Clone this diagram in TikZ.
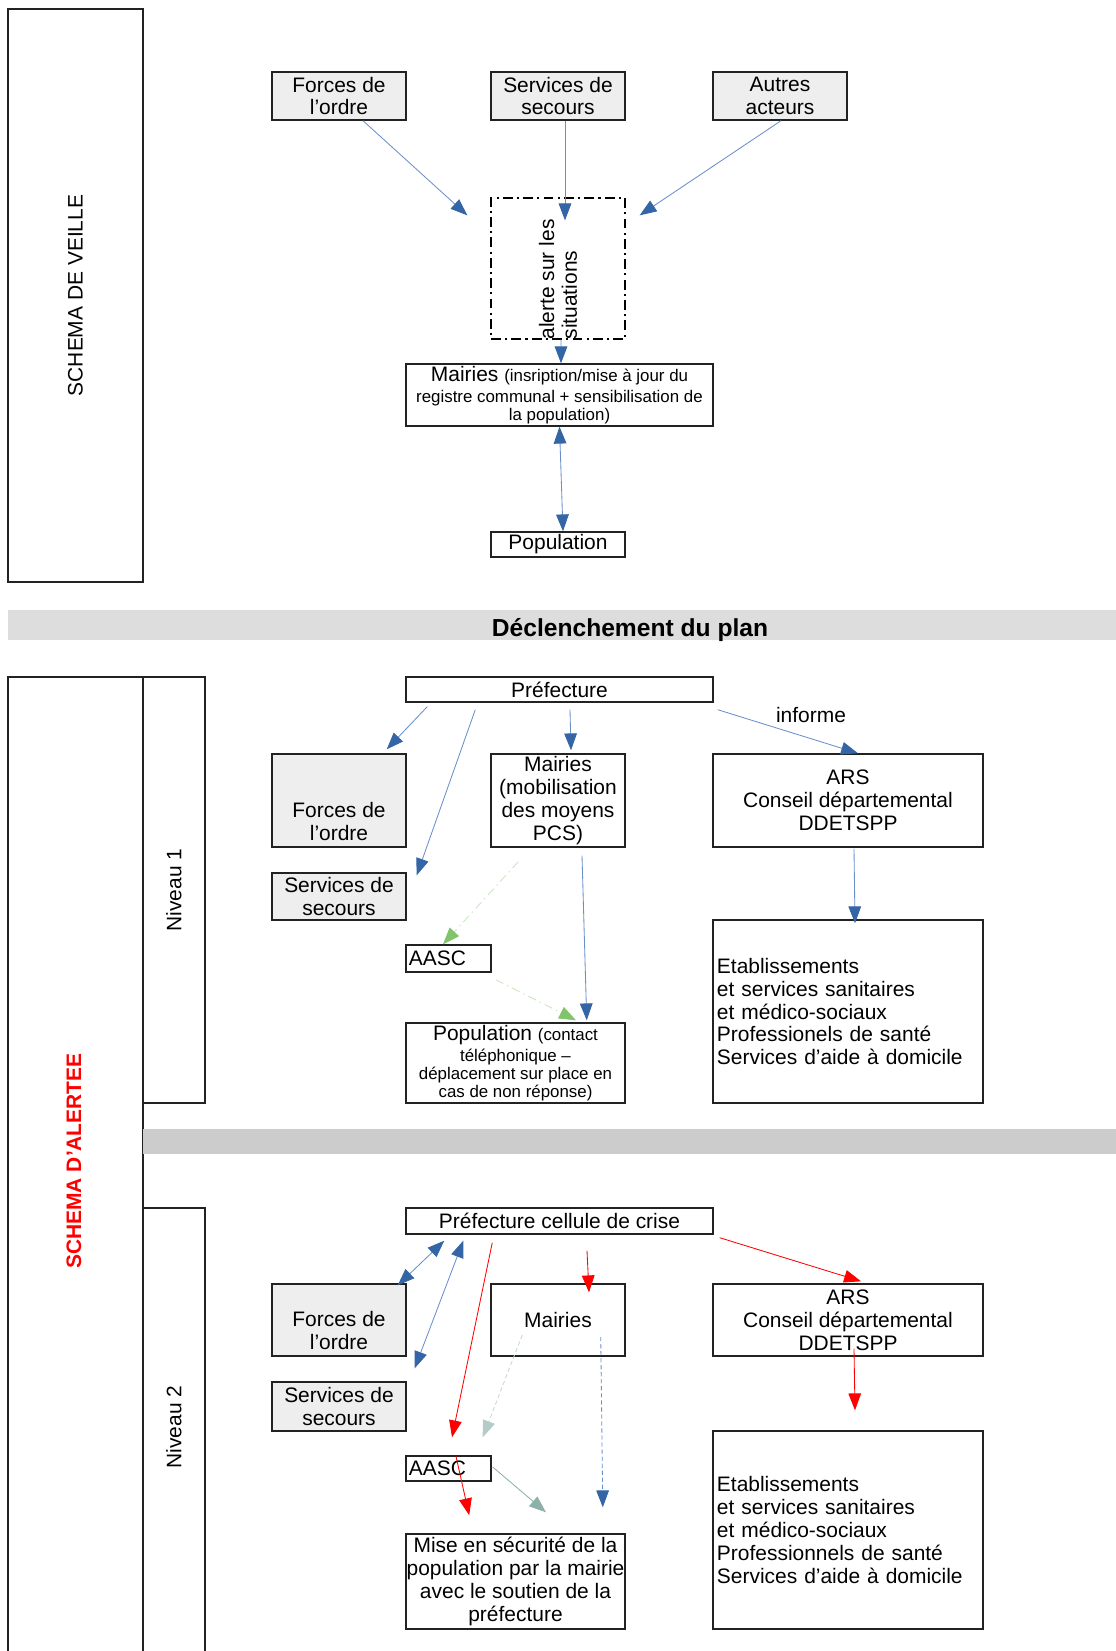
\documentclass[tikz,border=0pt]{standalone}
\usepackage{fontspec}
\setmainfont{Liberation Sans}
\usetikzlibrary{arrows.meta,calc}

\definecolor{cadre}{HTML}{222222}
\definecolor{grisclair}{HTML}{EEEEEE}
\definecolor{bandeau}{HTML}{DDDDDD}
\definecolor{bandeaufonce}{HTML}{CCCCCC}
\definecolor{bleutrait}{HTML}{6A8FCB}
\definecolor{bleu}{HTML}{3465A4}
\definecolor{rouge}{HTML}{FF0000}
\definecolor{verttrait}{HTML}{C9E4BF}
\definecolor{vert}{HTML}{81C46C}
\definecolor{gristrait}{HTML}{C6D8D4}
\definecolor{grisvert}{HTML}{B4CCC7}
\definecolor{sarcelle}{HTML}{8DB0A8}

\newcommand{\petit}{\fontsize{12}{13.5}\selectfont}

\tikzset{
  every node/.style={font=\fontsize{14.9}{16.3}\selectfont},
  trait/.style={draw=cadre,line width=1pt},
  boite/.style={
    draw=cadre,
    line width=1pt,
    fill=white,
    inner sep=1.5pt,
    align=center,
    minimum width=3.35cm
  },
  boitegrise/.style={boite,fill=grisclair},
  large/.style={minimum width=6.75cm},
  pointe/.style={-{Triangle[length=12pt,width=9pt,color=#1]}},
  fleche/.style={draw=bleutrait,line width=0.6pt,pointe=bleu},
  doublefleche/.style={draw=bleutrait,line width=0.6pt,
    {Triangle[length=12pt,width=9pt,color=bleu]}-{Triangle[length=12pt,width=9pt,color=bleu]}},
  flecherouge/.style={draw=rouge,line width=0.6pt,pointe=rouge},
  flecheverte/.style={draw=verttrait,line width=0.6pt,
    dash pattern=on 6pt off 3pt on 1pt off 3pt,pointe=vert},
  flechegrise/.style={draw=gristrait,line width=0.6pt,
    dash pattern=on 3pt off 2pt,pointe=grisvert},
  flechesarcelle/.style={draw=sarcelle,line width=0.6pt,pointe=sarcelle},
  flechepointillee/.style={draw=bleutrait,line width=0.6pt,
    dash pattern=on 3pt off 2pt,pointe=bleu}
}

\begin{document}
\begin{tikzpicture}[x=0.025cm,y=-0.025cm]
  \useasboundingbox (0,0) rectangle (1116,1651);

  % Schéma de veille
  \node[boite,rotate=90,minimum width=14.325cm,minimum height=3.375cm]
    (veille) at (75.5,295.5) {SCHEMA DE VEILLE};

  \node[boitegrise,minimum height=1.2cm] (forces0) at (339,96) {Forces de\\l’ordre};
  \node[boitegrise,minimum height=1.2cm] (secours0) at (558,96) {Services de\\secours};
  \node[boitegrise,minimum height=1.2cm] (autres0) at (780,96) {Autres\\acteurs};

  \node[boite,draw=black,line width=0.9pt,dash pattern=on 7pt off 3pt on 1.5pt off 3pt,
    minimum height=3.525cm] (alerte0) at (558,268.5) {};
  \node[rotate=90,anchor=west,align=left,inner sep=0pt]
    (alerte0-texte) at (alerte0.south) {alerte sur les\\situations};

  \node[boite,minimum width=7.675cm,minimum height=1.55cm] (mairies0) at (559.5,395)
    {Mairies \petit(insription/mise à jour du\\[-1.5pt]\petit registre communal + sensibilisation de\\[-3.5pt]\petit la population)};
  \node[boite,minimum height=0.625cm] (population0) at (558,544.5) {Population};

  \draw[fleche] ($(forces0.south)+(24,0)$) -- ($(alerte0.north west)+(-23,18)$);
  \draw[fleche] ($(secours0.south)+(7,0)$) -- ($(alerte0.north)+(7,23)$);
  \draw[fleche] ($(autres0.south)+(1,0)$) -- ($(alerte0.north east)+(14,18)$);
  \draw[fleche] ($(alerte0.south)+(3,0)$) -- ($(mairies0.north)+(1.5,0)$);
  \draw[doublefleche] (mairies0.south) -- ($(population0.north)+(5,0)$);

  % Bandeau de déclenchement
  \fill[bandeau] (8,610) rectangle (1116,640);
  \node[font=\fontsize{17.5}{20}\selectfont\bfseries] (declenchement) at (630,630)
    {Déclenchement du plan};

  % Schéma d'alerte : cadre ouvert vers le bas
  \draw[trait] (8,1651) |- (143,677) -- (143,1651);
  \node[rotate=90,text=rouge,font=\fontsize{14.9}{16.3}\selectfont\bfseries]
    (alerte) at (74,1161) {SCHEMA D’ALERTEE};

  % Niveau 1
  \node[boite,rotate=90,minimum width=10.65cm,minimum height=1.55cm]
    (niveau1) at (174,890) {Niveau 1};

  \node[boite,minimum width=7.675cm,minimum height=0.625cm] (pref1) at (559.5,689.5) {Préfecture};
  \node (informe) at (811,715) {informe};
  \node[boitegrise,minimum height=2.325cm] (forces1) at (339,800.5) {};
  \node[anchor=south,align=center,inner sep=5pt] (forces1-texte) at (forces1.south)
    {Forces de\\l’ordre};
  \node[boite,minimum height=2.325cm] (mairies1) at (558,800.5)
    {Mairies\\(mobilisation\\des moyens\\PCS)};
  \node[boite,large,minimum height=2.325cm] (ars1) at (848,800.5)
    {ARS\\Conseil départemental\\DDETSPP};
  \node[boitegrise,minimum height=1.175cm] (secours1) at (339,896.5) {Services de\\secours};
  \node[boite,minimum width=2.125cm,text width=1.98cm,align=left,minimum height=0.675cm]
    (aasc1) at (448.5,958.5) {AASC};
  \node[boite,minimum width=5.475cm,minimum height=2cm] (population1) at (515.5,1063)
    {Population \petit(contact\\[-1.5pt]\petit téléphonique –\\[-3.5pt]\petit déplacement sur place en\\[-3.5pt]\petit cas de non réponse)};
  \node[boite,large,minimum height=4.575cm,text width=6.55cm,align=left] (etab1) at (848,1011.5)
    {Etablissements\\et services sanitaires\\et médico-sociaux\\Professionels de santé\\Services d’aide à domicile};

  \draw[fleche] ($(pref1.south west)+(22,4)$) -- ($(forces1.north east)+(-20,-4)$);
  \draw[fleche] ($(pref1.south west)+(70,7)$) -- ($(secours1.north east)+(10,3)$);
  \draw[fleche] ($(pref1.south)+(10.5,7)$) -- ($(mairies1.north)+(13,-3)$);
  \draw[fleche] ($(pref1.south east)+(4,7)$) -- ($(ars1.north)+(10,0)$);
  \draw[fleche] ($(mairies1.south)+(24,8)$) -- ($(population1.north east)+(-39,-2)$);
  \draw[flecheverte] ($(mairies1.south west)+(28,14)$) -- ($(aasc1.north)+(-5.5,0)$);
  \draw[flecheverte] ($(aasc1.south east)+(4,7)$) -- ($(population1.north)+(60.5,-2)$);
  \draw[fleche] ($(ars1.south)+(6,1)$) -- ($(etab1.north)+(7,4)$);

  % Bandeau entre les deux niveaux
  \fill[bandeaufonce] (143,1129) rectangle (1116,1154);

  % Niveau 2
  \draw[trait] (143,1208) -- (205,1208) -- (205,1651);
  \node[rotate=90] (niveau2) at (174,1427) {Niveau 2};

  \node[boite,minimum width=7.675cm,minimum height=0.65cm] (pref2) at (559.5,1221)
    {Préfecture cellule de crise};
  \node[boitegrise,minimum height=1.8cm] (forces2) at (339,1320) {};
  \node[anchor=south,align=center,inner sep=5pt] (forces2-texte) at (forces2.south)
    {Forces de\\l’ordre};
  \node[boite,minimum height=1.8cm] (mairies2) at (558,1320) {Mairies};
  \node[boite,large,minimum height=1.8cm] (ars2) at (848,1320)
    {ARS\\Conseil départemental\\DDETSPP};
  \node[boitegrise,minimum height=1.225cm] (secours2) at (339,1406.5) {Services de\\secours};
  \node[boite,minimum width=2.125cm,text width=1.98cm,align=left,minimum height=0.625cm]
    (aasc2) at (448.5,1468.5) {AASC};
  \node[boite,minimum width=5.475cm,minimum height=2.375cm,inner xsep=0.5pt]
    (securite2) at (515.5,1581.5)
    {Mise en sécurité de la\\population par la mairie\\avec le soutien de la\\préfecture};
  \node[boite,large,minimum height=4.95cm,text width=6.55cm,align=left] (etab2) at (848,1530)
    {Etablissements\\et services sanitaires\\et médico-sociaux\\Professionnels de santé\\Services d’aide à domicile};

  \draw[doublefleche] ($(pref2.south west)+(39,6)$) -- ($(forces2.north east)+(-9,2)$);
  \draw[doublefleche] ($(pref2.south west)+(58,6)$) -- ($(secours2.north east)+(8,-13)$);
  \draw[flecherouge] ($(pref2.south west)+(87,8)$) -- ($(aasc2.north)+(3.5,-18)$);
  \draw[flecherouge] ($(pref2.south)+(27.5,16)$) -- ($(mairies2.north)+(31,9)$);
  \draw[flecherouge] ($(pref2.south east)+(6,3)$) -- ($(ars2.north)+(13,-2)$);
  \draw[flechegrise] ($(mairies2.west)+(32,15)$) -- ($(aasc2.north east)+(-9,-18)$);
  \draw[flechepointillee] ($(mairies2.east)+(-25,17)$) -- ($(securite2.north east)+(-23,-26)$);
  \draw[flechesarcelle] ($(aasc2.east)+(1,-1.5)$) -- ($(securite2.north)+(30.5,-21)$);
  \draw[flecherouge] ($(aasc2.north)+(7.5,1)$) -- ($(securite2.north west)+(64,-18)$);
  \draw[flecherouge] ($(ars2.south)+(6,-8)$) -- ($(etab2.north)+(7,-20)$);
\end{tikzpicture}
\end{document}
